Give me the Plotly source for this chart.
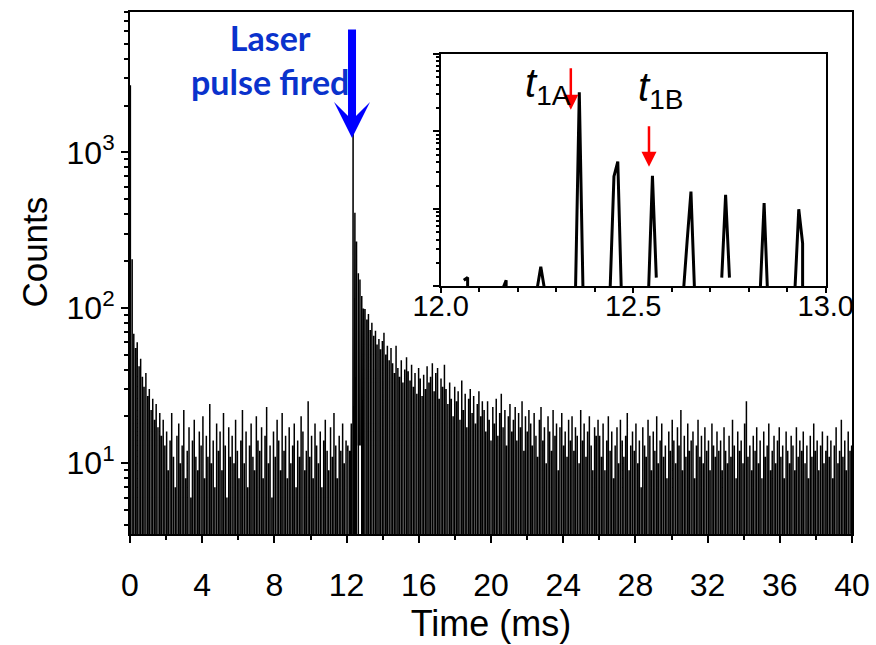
import numpy as np
import plotly.graph_objects as go

# ---- acquisition grid -------------------------------------------------------
BIN_MS = 0.01            # histogram bin width (ms)
N_BINS = 4000            # 0 .. 40 ms
PULSE_T0 = 0.02          # time of the first chopper pulse (ms)
PULSE_PERIOD = 0.0956    # pulse repetition period (ms)

# counts in the pulse bins, pulses k = 0 .. 125 (before the laser shot)
pulses_before = [
    2700, 205, 68, 55, 60, 42, 47, 36, 31, 38, 27, 30, 22, 26, 19, 24, 17, 21, 15, 19, 13,
    16, 9, 14, 21, 11, 7, 15, 18, 10, 13, 22, 8, 12, 17, 6, 14, 19, 11, 9, 16,
    13, 20, 8, 15, 11, 24, 10, 14, 7, 18, 12, 16, 9, 21, 13, 6, 17, 11, 15, 10,
    19, 12, 8, 14, 22, 10, 16, 7, 13, 18, 11, 9, 20, 14, 12, 17, 8, 15, 23, 10,
    13, 6, 16, 11, 19, 14, 9, 21, 12, 15, 8, 17, 10, 13, 18, 7, 14, 11, 20, 16,
    9, 12, 25, 11, 15, 8, 18, 13, 10, 16, 7, 14, 19, 12, 9, 17, 11, 21, 13, 8,
    15, 12, 18, 10, 14,
]

# counts in the pulse bins, pulses k = 136 .. 418 (decay after the laser shot)
AFTER_K0 = 136
pulses_after = [
    98, 84, 91, 72, 80, 66, 71, 58, 63, 54,
    61, 69, 50, 57, 46, 55,
    44, 38, 57, 41, 36, 46, 33, 40, 48,
    39, 34, 43, 31, 38, 28, 41, 35, 27, 37, 30, 42, 33,
    36, 44, 29, 38, 41, 26, 35, 31, 43,
    30, 24, 33, 26, 20, 31, 25, 29, 19, 34, 22, 28, 17, 26, 30, 21, 27, 18, 24, 29, 20, 25,
    22, 16, 25, 19, 14, 23, 18, 26, 15, 21, 28, 17, 22, 13, 20, 24, 16, 19, 23, 14, 21, 17,
    25, 12, 20, 16, 22,
    18, 13, 21, 15, 11, 19, 23, 14, 17, 10, 20, 16, 12, 22, 15, 18, 9, 17, 21, 13,
    16, 11, 19, 14, 20, 12, 17, 15, 10, 22, 14, 18, 11, 16, 20, 13, 9, 17, 15, 19,
    15, 11, 18, 9, 14, 20, 12, 16, 8, 13, 17, 10, 19, 14, 11, 15, 21, 9, 13, 16,
    12, 18, 10, 14, 7, 17, 13, 11, 19, 15, 9, 16, 12, 20, 10, 14, 18, 11, 13, 8,
    16, 12, 19, 14, 10, 17, 13, 22, 9, 15, 11, 18, 12, 14, 16, 8, 13, 19, 11, 15,
    10, 17, 12, 14, 9, 18, 13, 11, 16, 12,
    14, 9, 17, 12, 10, 15, 11, 19, 13, 8, 16, 12, 14, 10, 18, 25, 11, 13, 9, 15,
    12, 17, 10, 14, 8, 16, 11, 13, 18, 9, 12, 15, 10, 14, 17, 11, 13, 8, 16, 12,
    10, 15, 13, 9, 17, 11, 14, 12, 16, 10, 13, 8, 15, 11, 18, 12, 14, 9, 13, 16,
    10, 12, 15, 11, 14, 8, 13, 17, 10, 12, 19, 11, 14, 9, 16, 12, 13,
]

# full-resolution counts for 12.00 .. 12.99 ms (None = no recorded value)
DETAIL_START_BIN = 1200
detail_counts = [
    0, 0, 0, 0, 0, None, 12, 13, 0, 0,
    0, 0, 0, 0, 0, 0, 9, 12, 0, 0,
    0, 0, 0, 0, 0, 9, 18, 9, 0, 0,
    0, 0, 0, 0, 0, 8, 3190, 7, 0, 0,
    0, 0, 0, 0, 9, 262, 408, 6, 0, 0,
    0, 0, 0, 0, 9, 267, 13, None, 0, 0,
    0, 0, 0, 8, 38, 167, 7, 0, 0, 0,
    0, 0, None, 13, 152, 13, None, 0, 0, 0,
    0, 0, 0, 9, 119, 6, 0, 0, 0, 0,
    0, 0, 9, 99, 36, 0, 0, 0, 0, 0,
]

# ---- assemble the histogram --------------------------------------------------
time_ms = np.round(np.arange(N_BINS) * BIN_MS, 4)
counts = [0.0] * N_BINS


def pulse_bin(k):
    return int(round((PULSE_T0 + k * PULSE_PERIOD) / BIN_MS))


for k, c in enumerate(pulses_before):
    counts[pulse_bin(k)] = c
for j, c in enumerate(pulses_after):
    b = pulse_bin(AFTER_K0 + j)
    if b < N_BINS:
        counts[b] = c
for i, c in enumerate(detail_counts):
    counts[DETAIL_START_BIN + i] = c

fig = go.Figure()

# main decay histogram (zero-count bins drop below the log axis)
fig.add_trace(go.Scatter(
    x=time_ms, y=counts, mode="lines",
    line=dict(color="black", width=1.5),
    xaxis="x", yaxis="y", hoverinfo="skip",
))

# zoomed view around the laser pulse
lo, hi = DETAIL_START_BIN - 5, DETAIL_START_BIN + len(detail_counts) + 5
fig.add_trace(go.Scatter(
    x=time_ms[lo:hi], y=counts[lo:hi], mode="lines",
    line=dict(color="black", width=3),
    xaxis="x2", yaxis="y2", hoverinfo="skip",
))

FONT = "Liberation Sans, Arial, Helvetica, sans-serif"

# log-axis tick positions
main_major = [10, 100, 1000]
main_minor = [m * 10 ** e for e in range(0, 4) for m in range(2, 10)
              if 3.5 <= m * 10 ** e <= 8000]
inset_major = [10, 100, 1000, 10000]
inset_minor = [m * 10 ** e for e in range(1, 4) for m in range(2, 10)]

tick_style = dict(tickcolor="black", tickwidth=1.5)

fig.update_layout(
    width=876, height=645,
    margin=dict(l=130, r=24, t=12, b=111),
    paper_bgcolor="white", plot_bgcolor="white",
    showlegend=False,
    font=dict(family=FONT, color="black"),
    xaxis=dict(
        domain=[0, 1], range=[0, 40], automargin=False,
        tickvals=list(range(0, 41, 4)), ticks="outside", ticklen=7, **tick_style,
        minor=dict(tickvals=list(range(2, 40, 4)), ticks="outside", ticklen=4,
                   **tick_style),
        showline=True, linewidth=2, linecolor="black", mirror=True,
        showgrid=False, zeroline=False,
        tickfont=dict(size=32, family=FONT), ticklabelstandoff=15,
        title=dict(text="Time (ms)", font=dict(size=36, family=FONT), standoff=1),
    ),
    yaxis=dict(
        type="log", range=[np.log10(3.5), np.log10(8000)], automargin=False,
        tickvals=main_major,
        ticktext=["10<sup>1</sup>", "10<sup>2</sup>", "10<sup>3</sup>"],
        ticks="outside", ticklen=7, **tick_style,
        minor=dict(tickvals=main_minor, ticks="outside", ticklen=4, **tick_style),
        showline=True, linewidth=2, linecolor="black", mirror=True,
        showgrid=False, zeroline=False,
        tickfont=dict(size=32, family=FONT),
    ),
    # inward ticks along the top and right frame
    xaxis3=dict(
        overlaying="x", side="top", anchor="y", range=[0, 40], automargin=False,
        tickvals=list(range(0, 41, 2)), ticks="inside", ticklen=4, **tick_style,
        showticklabels=False, showgrid=False, zeroline=False, showline=False,
    ),
    yaxis3=dict(
        overlaying="y", side="right", anchor="x", type="log", automargin=False,
        range=[np.log10(3.5), np.log10(8000)],
        tickvals=main_major, ticks="inside", ticklen=6, **tick_style,
        minor=dict(tickvals=main_minor, ticks="inside", ticklen=3, **tick_style),
        showticklabels=False, showgrid=False, zeroline=False, showline=False,
    ),
    # inset axes
    xaxis2=dict(
        domain=[0.4303, 0.9636], anchor="y2", range=[12, 13], automargin=False,
        tickvals=[12, 12.5, 13], ticktext=["12.0", "12.5", "13.0"],
        ticks="outside", ticklen=5, **tick_style,
        minor=dict(tickvals=[12.1, 12.2, 12.3, 12.4, 12.6, 12.7, 12.8, 12.9],
                   ticks="outside", ticklen=4, **tick_style),
        showline=True, linewidth=2, linecolor="black", mirror=True,
        showgrid=False, zeroline=False,
        tickfont=dict(size=29, family=FONT), ticklabelstandoff=-12,
    ),
    yaxis2=dict(
        domain=[0.4743, 0.920], anchor="x2", type="log", range=[1, 4],
        automargin=False,
        tickvals=inset_major, ticks="outside", ticklen=6, **tick_style,
        minor=dict(tickvals=inset_minor, ticks="outside", ticklen=3, **tick_style),
        showticklabels=False,
        showline=True, linewidth=2, linecolor="black", mirror=True,
        showgrid=False, zeroline=False,
    ),
    annotations=[
        dict(x=-0.1316, y=0.541, xref="paper", yref="paper", showarrow=False,
             xanchor="center", yanchor="middle",
             text="Counts", textangle=-90,
             font=dict(family=FONT, size=35, color="black")),
        dict(x=7.75, y=3.60, xref="x", yref="y", showarrow=False,
             text="<b>Laser<br>pulse fired</b>", align="center",
             font=dict(family="Lato, Open Sans, sans-serif", size=34, color="#0a32cc")),
        dict(x=12.3, y=3.092, xref="x", yref="y", ax=0, ay=-110, text="",
             showarrow=True, arrowhead=3, arrowsize=0.75, arrowwidth=8,
             arrowcolor="#0000ff"),
        dict(x=12.338, y=3.277, xref="x2", yref="y2", ax=0, ay=-43, text="",
             showarrow=True, arrowhead=2, arrowsize=1.2, arrowwidth=2.5,
             arrowcolor="#ff0000"),
        dict(x=12.541, y=2.543, xref="x2", yref="y2", ax=0, ay=-42, text="",
             showarrow=True, arrowhead=2, arrowsize=1.2, arrowwidth=2.5,
             arrowcolor="#ff0000"),
        dict(x=12.279, y=3.58, xref="x2", yref="y2", showarrow=False,
             text="<i>t</i><sub>1A</sub>",
             font=dict(family=FONT, size=40, color="black")),
        dict(x=12.572, y=3.53, xref="x2", yref="y2", showarrow=False,
             text="<i>t</i><sub>1B</sub>",
             font=dict(family=FONT, size=40, color="black")),
    ],
)

fig.write_html("out.html")
